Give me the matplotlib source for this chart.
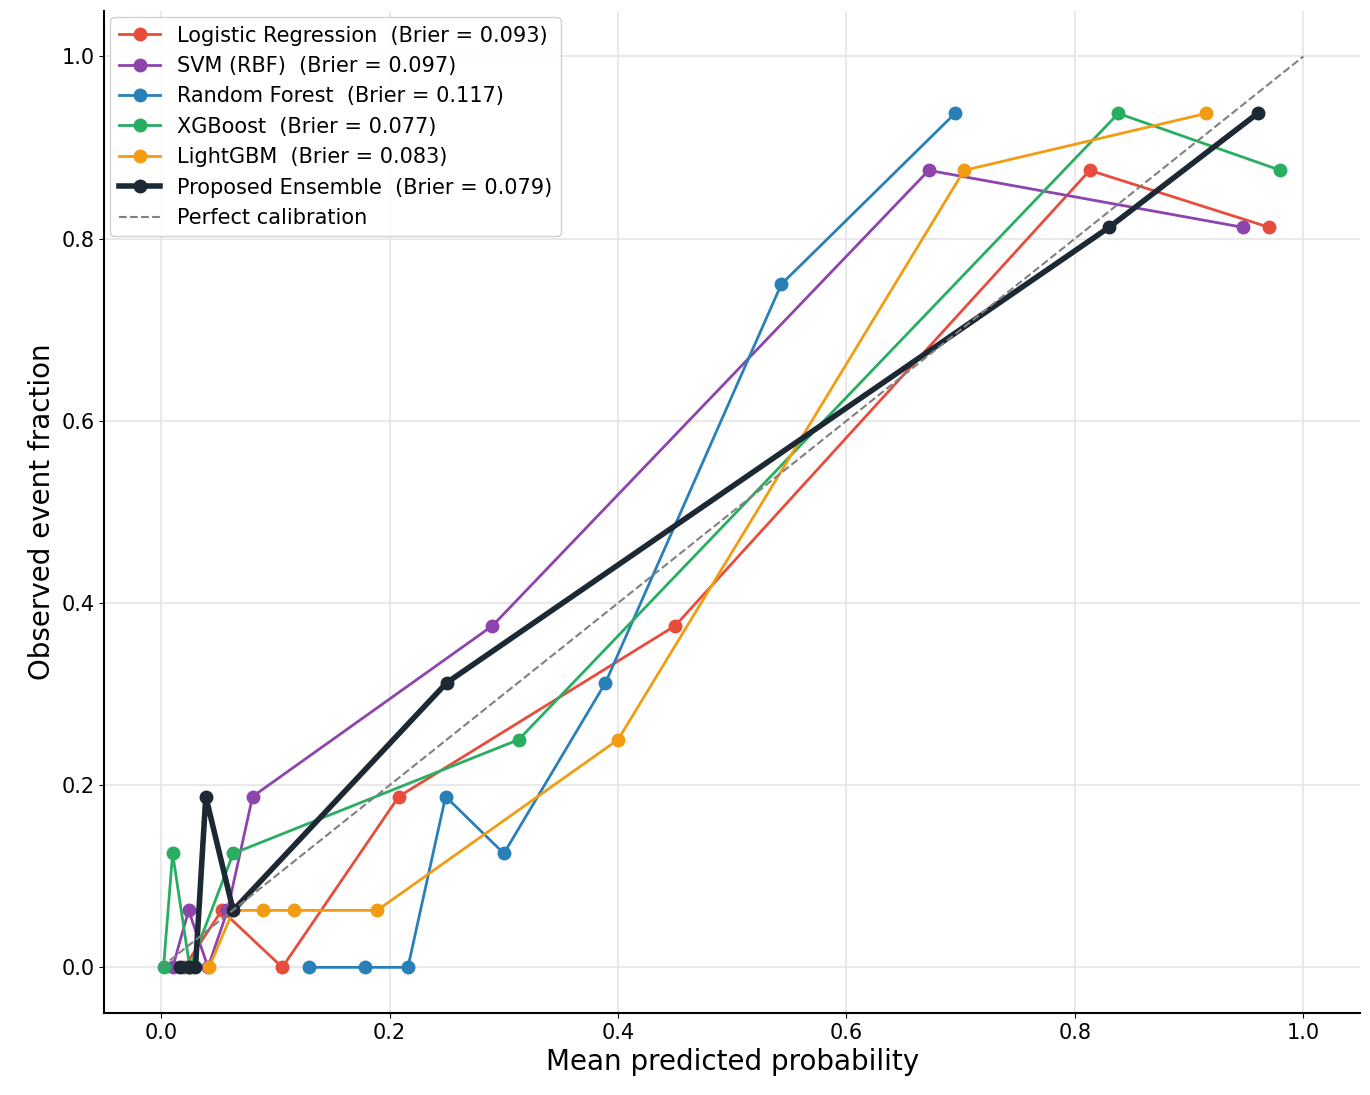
import matplotlib
matplotlib.use('Agg')
import matplotlib.pyplot as plt

lr_x = [0.02, 0.053, 0.106, 0.208, 0.45, 0.813, 0.97]
lr_y = [0.0, 0.0625, 0.0, 0.1875, 0.375, 0.875, 0.8125]
svm_x = [0.01, 0.024, 0.041, 0.058, 0.08, 0.29, 0.672, 0.947]
svm_y = [0.0, 0.0625, 0.0, 0.0625, 0.1875, 0.375, 0.875, 0.8125]
rf_x = [0.129, 0.178, 0.216, 0.249, 0.30, 0.389, 0.543, 0.695]
rf_y = [0.0, 0.0, 0.0, 0.1875, 0.125, 0.3125, 0.75, 0.9375]
xgb_x = [0.002, 0.010, 0.025, 0.063, 0.313, 0.838, 0.98]
xgb_y = [0.0, 0.125, 0.0, 0.125, 0.25, 0.9375, 0.875]
lgb_x = [0.042, 0.063, 0.089, 0.116, 0.189, 0.40, 0.703, 0.915]
lgb_y = [0.0, 0.0625, 0.0625, 0.0625, 0.0625, 0.25, 0.875, 0.9375]
ens_x = [0.0166, 0.024, 0.030, 0.039, 0.063, 0.25, 0.83, 0.96]
ens_y = [0.0, 0.0, 0.0, 0.1875, 0.0625, 0.3125, 0.8125, 0.9375]

plt.rcParams.update({'font.family': 'DejaVu Sans'})
fig, ax = plt.subplots(figsize=(13.7, 10.95), dpi=100)
ms = 9
ax.plot(lr_x, lr_y, '-o', color='#e74c3c', lw=2, ms=ms, label='Logistic Regression  (Brier = 0.093)')
ax.plot(svm_x, svm_y, '-o', color='#8e44ad', lw=2, ms=ms, label='SVM (RBF)  (Brier = 0.097)')
ax.plot(rf_x, rf_y, '-o', color='#2980b9', lw=2, ms=ms, label='Random Forest  (Brier = 0.117)')
ax.plot(xgb_x, xgb_y, '-o', color='#27ae60', lw=2, ms=ms, label='XGBoost  (Brier = 0.077)')
ax.plot(lgb_x, lgb_y, '-o', color='#f39c12', lw=2, ms=ms, label='LightGBM  (Brier = 0.083)')
ax.plot(ens_x, ens_y, '-o', color='#1c2833', lw=4, ms=ms, label='Proposed Ensemble  (Brier = 0.079)')
ax.plot([0, 1], [0, 1], '--', color='gray', lw=1.5, label='Perfect calibration')

ax.set_xlim(-0.05, 1.05); ax.set_ylim(-0.05, 1.05)
ax.set_xticks([0, 0.2, 0.4, 0.6, 0.8, 1.0]); ax.set_yticks([0, 0.2, 0.4, 0.6, 0.8, 1.0])
ax.tick_params(labelsize=15)
ax.set_xlabel('Mean predicted probability', fontsize=20)
ax.set_ylabel('Observed event fraction', fontsize=20)
ax.grid(True, color='#e5e5e5', lw=1.2)
ax.spines['top'].set_visible(False); ax.spines['right'].set_visible(False)
ax.spines['left'].set_linewidth(1.5); ax.spines['bottom'].set_linewidth(1.5)
ax.legend(loc='upper left', fontsize=15, framealpha=0.9, borderaxespad=0.3)
fig.subplots_adjust(left=0.076, right=0.993, bottom=0.075, top=0.99)
fig.savefig('out.png')
